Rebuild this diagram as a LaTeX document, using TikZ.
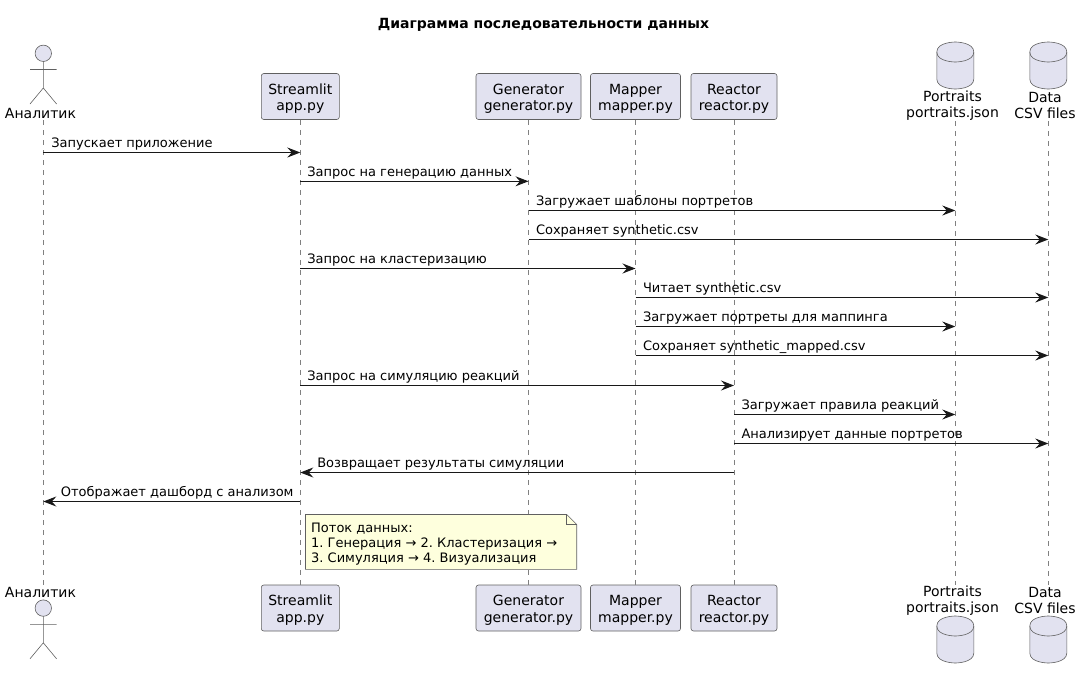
\documentclass[tikz,border=0pt]{standalone}
\usepackage{fontspec}
\setmainfont{DejaVu Sans}
\usetikzlibrary{arrows.meta}
\definecolor{boxfill}{HTML}{E2E2F0}
\definecolor{notefill}{HTML}{FEFFDD}
\definecolor{linecol}{HTML}{181818}
\definecolor{thincol}{HTML}{606060}
\tikzset{
    partbox/.style={draw=thincol, line width=0.6pt, fill=boxfill, rounded corners=2.5pt, inner sep=0pt,
        minimum height=46pt, align=center, font=\fontsize{14}{16.5}\selectfont},
    parttext/.style={inner sep=0pt, align=center, font=\fontsize{14}{16.5}\selectfont},
    lifeline/.style={draw=thincol!80, line width=0.6pt, dash pattern=on 5pt off 5pt},
    msg/.style={draw=linecol, line width=1pt, -{Stealth[length=13pt,width=10pt,inset=4.5pt]}},
    msgtext/.style={anchor=base west, inner sep=0pt, text=black, font=\fontsize{13}{15}\selectfont},
    actorsym/.pic={
        \draw[draw=thincol, line width=0.6pt, fill=boxfill] (0,-8.2) circle (8.2pt);
        \draw[draw=thincol, line width=0.6pt] (0,0) -- (0,26.5) (-13.3,8) -- (13.3,8) (-13.3,42.5) -- (0,26.5) -- (13.3,42.5);
    },
    dbsym/.pic={
        \draw[draw=thincol, line width=0.6pt, fill=boxfill] (-18.5,10) .. controls (-18.5,0) and (0,0) .. (0,0)
            .. controls (0,0) and (18.5,0) .. (18.5,10) -- (18.5,37)
            .. controls (18.5,47) and (0,47) .. (0,47) .. controls (0,47) and (-18.5,47) .. (-18.5,37) -- cycle;
        \draw[draw=thincol, line width=0.6pt] (-18.5,10) .. controls (-18.5,20) and (0,20) .. (0,20)
            .. controls (0,20) and (18.5,20) .. (18.5,10);
    },
}
\begin{document}
\begin{tikzpicture}[x=1pt, y=-1pt]
    \useasboundingbox (0,0) rectangle (1082,678);

    % Titre
    \node[inner sep=0pt, font=\fontsize{14}{16}\selectfont\bfseries] (title) at (543.5,25) {Диаграмма последовательности данных};

    % Participants en haut
    \pic at (43.3,61.5) {actorsym};
    \node[parttext] (analitikTop) at (40.5,113) {Аналитик};
    \node[partbox, minimum width=78pt] (streamlitTop) at (300.3,96.5) {\strut\smash{Streamlit}\\\smash{app.py}};
    \node[partbox, minimum width=105pt] (generatorTop) at (528.5,96.5) {\strut\smash{Generator}\\\smash{generator.py}};
    \node[partbox, minimum width=90pt] (mapperTop) at (635.5,96.5) {\strut\smash{Mapper}\\\smash{mapper.py}};
    \node[partbox, minimum width=86pt] (reactorTop) at (734,96.5) {\strut\smash{Reactor}\\\smash{reactor.py}};
    \pic at (955.3,42) {dbsym};
    \node[parttext] (portraitsTop) at (952.5,105.5) {Portraits\\portraits.json};
    \pic at (1048.3,42) {dbsym};
    \node[parttext] (dataTop) at (1045,105.5) {Data\\CSV files};

    % Participants en bas
    \pic at (43.3,616.3) {actorsym};
    \node[parttext] (analitikBot) at (40.5,592) {Аналитик};
    \node[partbox, minimum width=78pt] (streamlitBot) at (300.3,608) {\strut\smash{Streamlit}\\\smash{app.py}};
    \node[partbox, minimum width=105pt] (generatorBot) at (528.5,608) {\strut\smash{Generator}\\\smash{generator.py}};
    \node[partbox, minimum width=90pt] (mapperBot) at (635.5,608) {\strut\smash{Mapper}\\\smash{mapper.py}};
    \node[partbox, minimum width=86pt] (reactorBot) at (734,608) {\strut\smash{Reactor}\\\smash{reactor.py}};
    \pic at (955.3,616) {dbsym};
    \node[parttext] (portraitsBot) at (952.5,600.5) {Portraits\\portraits.json};
    \pic at (1048.3,616) {dbsym};
    \node[parttext] (dataBot) at (1045,600.5) {Data\\CSV files};

    % Bouts des lignes de vie
    \coordinate (analitik) at (43.3,120);
    \coordinate (analitikEnd) at (43.3,585);
    \coordinate (portraits) at (955.3,121);
    \coordinate (portraitsEnd) at (955.3,585);
    \coordinate (data) at (1048.3,121);
    \coordinate (dataEnd) at (1048.3,585);

    % Lignes de vie
    \draw[lifeline] (analitik) -- (analitikEnd);
    \draw[lifeline] (streamlitTop) -- (streamlitBot);
    \draw[lifeline] (generatorTop) -- (generatorBot);
    \draw[lifeline] (mapperTop) -- (mapperBot);
    \draw[lifeline] (reactorTop) -- (reactorBot);
    \draw[lifeline] (portraits) -- (portraitsEnd);
    \draw[lifeline] (data) -- (dataEnd);

    % Messages
    \coordinate (m1) at (0,152.5);
    \coordinate (m2) at (0,181.3);
    \coordinate (m3) at (0,210.5);
    \coordinate (m4) at (0,239.5);
    \coordinate (m5) at (0,268.5);
    \coordinate (m6) at (0,297.5);
    \coordinate (m7) at (0,326.5);
    \coordinate (m8) at (0,355.5);
    \coordinate (m9) at (0,385.5);
    \coordinate (m10) at (0,414.5);
    \coordinate (m11) at (0,443.5);
    \coordinate (m12) at (0,472.5);
    \coordinate (m13) at (0,501.5);
    \draw[msg] (analitik |- m1) -- (streamlitTop |- m1) node[msgtext, pos=0, xshift=7.5pt, yshift=5pt] (l1) {Запускает приложение};
    \draw[msg] (streamlitTop |- m2) -- (generatorTop |- m2) node[msgtext, pos=0, xshift=6.5pt, yshift=5pt] (l2) {Запрос на генерацию данных};
    \draw[msg] (generatorTop |- m3) -- (portraits |- m3) node[msgtext, pos=0, xshift=7pt, yshift=5pt] (l3) {Загружает шаблоны портретов};
    \draw[msg] (generatorTop |- m4) -- (data |- m4) node[msgtext, pos=0, xshift=7pt, yshift=5pt] (l4) {Сохраняет synthetic.csv};
    \draw[msg] (streamlitTop |- m5) -- (mapperTop |- m5) node[msgtext, pos=0, xshift=6.5pt, yshift=5pt] (l5) {Запрос на кластеризацию};
    \draw[msg] (mapperTop |- m6) -- (data |- m6) node[msgtext, pos=0, xshift=7pt, yshift=5pt] (l6) {Читает synthetic.csv};
    \draw[msg] (mapperTop |- m7) -- (portraits |- m7) node[msgtext, pos=0, xshift=7pt, yshift=5pt] (l7) {Загружает портреты для маппинга};
    \draw[msg] (mapperTop |- m8) -- (data |- m8) node[msgtext, pos=0, xshift=7pt, yshift=5pt] (l8) {Сохраняет synthetic\_mapped.csv};
    \draw[msg] (streamlitTop |- m9) -- (reactorTop |- m9) node[msgtext, pos=0, xshift=6.5pt, yshift=5pt] (l9) {Запрос на симуляцию реакций};
    \draw[msg] (reactorTop |- m10) -- (portraits |- m10) node[msgtext, pos=0, xshift=7pt, yshift=5pt] (l10) {Загружает правила реакций};
    \draw[msg] (reactorTop |- m11) -- (data |- m11) node[msgtext, pos=0, xshift=7pt, yshift=5pt] (l11) {Анализирует данные портретов};
    \draw[msg] (reactorTop |- m12) -- (streamlitTop |- m12) node[msgtext, pos=1, xshift=16.5pt, yshift=5pt] (l12) {Возвращает результаты симуляции};
    \draw[msg] (streamlitTop |- m13) -- (analitik |- m13) node[msgtext, pos=1, xshift=17pt, yshift=5pt] (l13) {Отображает дашборд с анализом};

    % Note
    \draw[draw=thincol, line width=0.6pt, fill=notefill] (305.5,514.5) -- (566.7,514.5) -- (576.7,524.5) -- (576.7,569.3) -- (305.5,569.3) -- cycle;
    \draw[draw=thincol, line width=0.6pt] (566.7,514.5) -- (566.7,524.5) -- (576.7,524.5);
    \node[anchor=west, inner sep=0pt, align=left, font=\fontsize{13}{15}\selectfont\frenchspacing] (noteText) at (311,544) {Поток данных:\\1. Генерация → 2. Кластеризация →\\3. Симуляция → 4. Визуализация};
\end{tikzpicture}
\end{document}
